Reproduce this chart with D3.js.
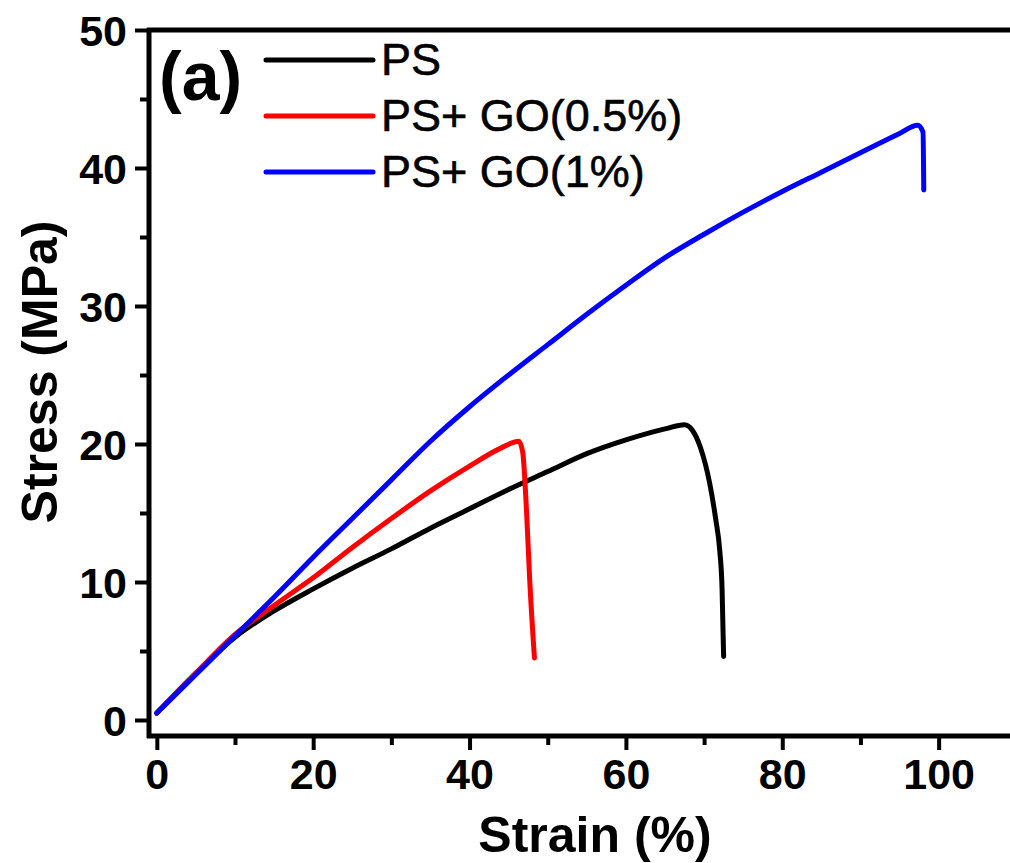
<!DOCTYPE html>
<html>
<head>
<meta charset="utf-8">
<script src="https://cdn.jsdelivr.net/npm/d3@7/dist/d3.min.js"></script>
<style>
html, body { margin: 0; padding: 0; background: #fff; }
svg { display: block; }
text { font-family: "Liberation Sans", Arial, sans-serif; fill: #000; }
</style>
</head>
<body>
<svg id="chart" width="1010" height="863"></svg>
<script>
// ---- data (strain %, stress MPa) ----
const seriesNames = ["PS", "PS+ GO(0.5%)", "PS+ GO(1%)"];
const seriesColors = ["#000000", "#ff0000", "#0000ff"];
const psStrain = [0, 5, 10, 15, 20, 25, 30, 35, 40, 45, 50, 55, 60, 65, 67.5, 68.5, 69.5, 70.7, 71.5, 72, 72.3, 72.4, 72.5];
const psStress = [0.5, 3.4, 6.0, 7.9, 9.5, 11.0, 12.4, 13.9, 15.3, 16.7, 18.0, 19.3, 20.3, 21.1, 21.4, 21.0, 19.8, 17.2, 14.5, 12.3, 9.5, 7.0, 4.6];
const go05Strain = [0, 5, 10, 15, 20, 25, 30, 35, 40, 44, 46.3, 46.8, 47.3, 47.7, 48.3];
const go05Stress = [0.5, 3.4, 6.2, 8.3, 10.3, 12.5, 14.6, 16.6, 18.4, 19.7, 20.2, 19.4, 15.0, 10.1, 4.5];
const go1Strain = [0, 5, 10, 15, 20, 25, 30, 35, 40, 45, 50, 55, 60, 65, 70, 75, 80, 85, 90, 95, 97.3, 98.0, 98.1];
const go1Stress = [0.5, 3.3, 6.1, 8.9, 11.8, 14.6, 17.4, 20.2, 22.7, 25.0, 27.2, 29.4, 31.5, 33.5, 35.2, 36.8, 38.3, 39.7, 41.1, 42.5, 43.1, 42.6, 38.4];
const xMajorTicks = [0, 20, 40, 60, 80, 100];
const xMinorTicks = [10, 30, 50, 70, 90];
const yMajorTicks = [0, 10, 20, 30, 40, 50];
const yMinorTicks = [5, 15, 25, 35, 45];
const xTitle = "Strain (%)";
const yTitle = "Stress (MPa)";
const panelLabel = "(a)";

const strains = [psStrain, go05Strain, go1Strain];
const stresses = [psStress, go05Stress, go1Stress];

// ---- layout ----
const plotLeft = 149, plotRight = 1009, plotTop = 30, plotBottom = 736;
const svg = d3.select("#chart");

const x = d3.scaleLinear().domain([-1, 109]).range([plotLeft, plotRight]);
const y = d3.scaleLinear().domain([-1.16, 50]).range([plotBottom, plotTop]);

const tickFont = 43;

// curves
const lineGen = d3.line().x(d => x(d[0])).y(d => y(d[1])).curve(d3.curveMonotoneX);
const gCurves = svg.append("g");
[0, 1, 2].forEach(i => {
  const pts = strains[i].map((s, k) => [s, stresses[i][k]]);
  gCurves.append("path")
    .attr("d", lineGen(pts))
    .attr("fill", "none")
    .attr("stroke", seriesColors[i])
    .attr("stroke-width", 5)
    .attr("stroke-linejoin", "round")
    .attr("stroke-linecap", "round");
});

// axes
const xAxis = d3.axisBottom(x).tickValues(xMajorTicks).tickSize(14).tickSizeOuter(0).tickPadding(8);
const xAxisMinor = d3.axisBottom(x).tickValues(xMinorTicks).tickSize(9).tickSizeOuter(0).tickFormat("");
const yAxis = d3.axisLeft(y).tickValues(yMajorTicks).tickSize(14).tickSizeOuter(0).tickPadding(8);
const yAxisMinor = d3.axisLeft(y).tickValues(yMinorTicks).tickSize(9).tickSizeOuter(0).tickFormat("");

function styleAxis(g) {
  g.select(".domain").remove();
  g.selectAll(".tick line").attr("stroke", "#000").attr("stroke-width", 4);
  g.selectAll(".tick text")
    .style("font-family", "'Liberation Sans', Arial, sans-serif")
    .style("font-weight", "bold")
    .style("font-size", tickFont + "px")
    .attr("fill", "#000");
}

svg.append("g").attr("transform", `translate(0,${plotBottom})`).call(xAxis).call(styleAxis);
svg.append("g").attr("transform", `translate(0,${plotBottom})`).call(xAxisMinor).call(styleAxis);
svg.append("g").attr("transform", `translate(${plotLeft},0)`).call(yAxis).call(styleAxis)
  .selectAll(".tick text").attr("dy", "0.36em");
svg.append("g").attr("transform", `translate(${plotLeft},0)`).call(yAxisMinor).call(styleAxis);

// frame lines (left, bottom, top)
svg.append("line").attr("x1", plotLeft).attr("x2", plotLeft).attr("y1", plotTop - 2).attr("y2", plotBottom + 2)
  .attr("stroke", "#000").attr("stroke-width", 5);
svg.append("line").attr("x1", plotLeft - 2).attr("x2", 1010).attr("y1", plotBottom).attr("y2", plotBottom)
  .attr("stroke", "#000").attr("stroke-width", 5);
svg.append("line").attr("x1", plotLeft - 2).attr("x2", 1010).attr("y1", plotTop).attr("y2", plotTop)
  .attr("stroke", "#000").attr("stroke-width", 5);

// axis titles
svg.append("text").attr("x", 595).attr("y", 852)
  .attr("text-anchor", "middle")
  .style("font-weight", "bold").style("font-size", "50px")
  .text(xTitle);
svg.append("text")
  .attr("transform", `translate(57,${372}) rotate(-90)`)
  .attr("text-anchor", "middle")
  .style("font-weight", "bold").style("font-size", "50px")
  .text(yTitle);

// panel label
svg.append("text").attr("x", 159).attr("y", 100)
  .style("font-size", "68px").style("font-weight", "bold")
  .text(panelLabel);

// legend
const legendY = [60, 116, 172];
seriesNames.forEach((name, i) => {
  svg.append("line").attr("x1", 266).attr("x2", 373)
    .attr("y1", legendY[i]).attr("y2", legendY[i])
    .attr("stroke", seriesColors[i]).attr("stroke-width", 5)
    .attr("stroke-linecap", "round");
  svg.append("text").attr("x", 381).attr("y", legendY[i] + 15)
    .style("font-size", "45px")
    .attr("stroke", "#000").attr("stroke-width", 0.6)
    .text(name);
});
</script>
</body>
</html>
